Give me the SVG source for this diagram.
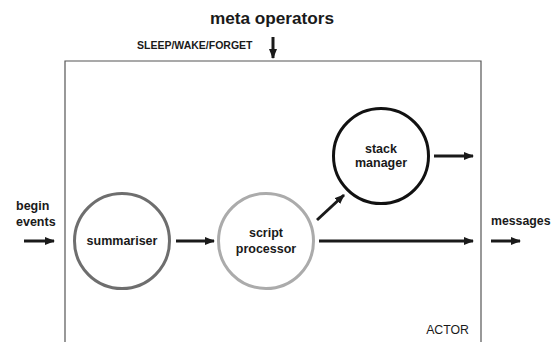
<svg xmlns="http://www.w3.org/2000/svg" width="552" height="342" viewBox="0 0 552 342">
<style>
text{font-family:"Liberation Sans",Arial,sans-serif;fill:#1a1a1a}
.b{font-weight:bold}
.lbl{font-size:12.5px;font-weight:bold;text-anchor:middle}
.node{fill:#fff;stroke-width:3}
.arr{stroke:#1a1a1a;stroke-width:3;fill:none;marker-end:url(#ah)}
</style>
<defs>
<marker id="ah" viewBox="0 0 10 8" refX="9" refY="4" markerWidth="10" markerHeight="8" markerUnits="userSpaceOnUse" orient="auto">
<path d="M0,0 L10,4 L0,8 Z" fill="#1a1a1a"/>
</marker>
</defs>
<rect width="552" height="342" fill="#fff"/>
<path d="M65,342 V61 H481 V342" fill="none" stroke="#555" stroke-width="1.2"/>
<text x="272" y="24" class="b" font-size="17.2" text-anchor="middle">meta operators</text>
<text x="137" y="49" class="b" font-size="10.5">SLEEP/WAKE/FORGET</text>
<text x="469" y="334" font-size="12.3" text-anchor="end">ACTOR</text>
<text x="16" y="210" class="b" font-size="12.5">begin</text>
<text x="16" y="226" class="b" font-size="12.5">events</text>
<text x="491" y="225" class="b" font-size="12.3">messages</text>
<g id="summariser">
<circle cx="122" cy="241" r="47.5" class="node" stroke="#6e6e6e"/>
<text x="122" y="245" class="lbl">summariser</text>
</g>
<g id="script-processor">
<circle cx="266" cy="241" r="47.5" class="node" stroke="#ababab"/>
<text x="266" y="237" class="lbl">script</text>
<text x="266" y="253" class="lbl">processor</text>
</g>
<g id="stack-manager">
<circle cx="381" cy="156" r="47.5" class="node" stroke="#111"/>
<text x="381" y="153" class="lbl">stack</text>
<text x="381" y="167" class="lbl">manager</text>
</g>
<g id="connectors">
<line x1="273" y1="37" x2="273" y2="58" class="arr"/>
<line x1="24" y1="241" x2="54" y2="241" class="arr"/>
<line x1="176" y1="241" x2="214" y2="241" class="arr"/>
<line x1="319" y1="241" x2="473" y2="241" class="arr"/>
<line x1="434" y1="156" x2="473" y2="156" class="arr"/>
<line x1="317" y1="220" x2="344" y2="195" class="arr"/>
<line x1="491" y1="241" x2="520" y2="241" class="arr"/>
</g>
</svg>
